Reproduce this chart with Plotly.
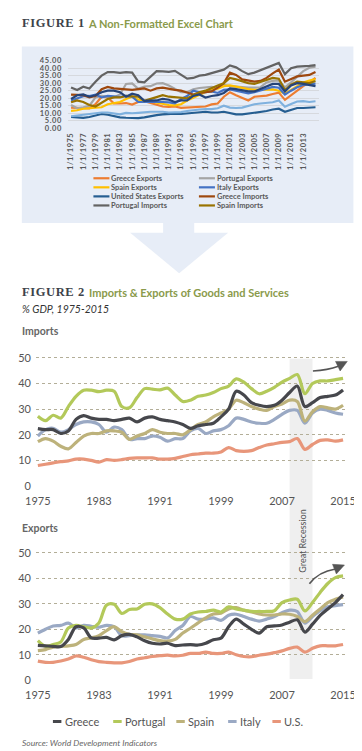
import plotly.graph_objects as go

W, H = 362, 751
def fx(x): return x / W
def fy(y): return 1 - y / H

# ---------------- data ----------------
years = list(range(1975, 2016))

greece_imports = [22.4, 22, 22, 20.5, 21.5, 26, 27.5, 26.5, 26, 26,
                  25.5, 26, 26.5, 25, 26.5, 27, 26, 25.5, 25, 24,
                  22.5, 23.5, 24, 24.5, 27, 30, 37, 35.5, 32.5, 31.5,
                  31, 31.5, 33.5, 36.5, 39, 31, 32.5, 34.5, 35, 35.5, 37.5]
portugal_imports = [27.2, 25.5, 27.6, 26.5, 31, 35, 37.4, 37.4, 36.8, 37.4,
                    37, 31, 30.5, 34.5, 38, 37.8, 37.5, 38.2, 35.5, 33,
                    33.5, 35, 35.5, 36.5, 38, 39, 41.8, 40.5, 38, 36,
                    37, 38.5, 40.5, 42, 43.5, 36, 40, 41, 41, 41.5, 42]
spain_imports = [17.3, 18.5, 17.5, 15.5, 14.5, 17, 19.5, 20.5, 20.5, 21.5,
                 21.5, 21, 18.2, 19.5, 20.5, 22, 21, 20.5, 20.5, 20,
                 22, 24, 25, 27, 28.5, 30, 33.5, 32.5, 31, 30,
                 29.5, 31, 32, 33.5, 33, 25.3, 29, 31, 30.5, 30, 31.5]
italy_imports = [19.5, 22, 22.5, 21, 22, 24, 25, 25, 24, 21,
                 23, 22, 18.2, 18.5, 18.5, 19.5, 19, 17.5, 18.5, 18.5,
                 21.5, 22.5, 20.5, 21.5, 22, 23.5, 26.5, 26, 25, 24.5,
                 24.5, 26, 28, 29.5, 29.5, 24.5, 28.5, 30, 29.5, 28.5, 28]
us_imports = [8, 8.5, 9, 9.5, 9.8, 10.5, 10.5, 10, 9.3, 10.3,
              10, 10.3, 10.8, 11, 11, 11, 10.5, 10.5, 10.8, 11.5,
              12.2, 12.5, 12.8, 12.8, 13.3, 15, 13.8, 13.5, 13.8, 15,
              16, 16.5, 17, 17.3, 18.5, 14.3, 16.2, 17.8, 18, 17.5, 18]

greece_exports = [13.7, 13.5, 13.3, 13.2, 16, 21, 20.5, 16.6, 16.5, 16.8,
                  15.8, 17.5, 18, 17, 15.5, 14.5, 14.2, 14.5, 13.6, 13.8,
                  14, 13.8, 14.5, 15.9, 16.5, 21, 24, 22, 20, 18.5,
                  21, 21.3, 21.7, 22.8, 23.7, 18.9, 22, 25.5, 28, 30.5, 33.6]
portugal_exports = [15.5, 13.3, 14, 15, 20.5, 21.5, 21, 20.5, 22.5, 29.5,
                    29.8, 26.2, 27.8, 28, 29.8, 30, 28.5, 26, 24, 24,
                    26, 26.8, 27, 27.5, 26.8, 28.8, 28, 27.5, 27, 27,
                    27, 27.3, 30.5, 31.5, 31.8, 27.2, 30.5, 34.5, 38, 40.3, 41]
spain_exports = [11.6, 12, 13, 13.3, 13.5, 14, 16, 16.6, 17.5, 19.5,
                 21, 19, 18, 17.8, 17, 16.2, 15.5, 15.3, 16, 18.5,
                 20.4, 22.5, 24.5, 26, 26.3, 28, 28.5, 27.5, 26.8, 26,
                 25.6, 25.6, 26, 25.9, 25, 23, 25.5, 28, 30.5, 31.8, 32.7]
italy_exports = [18.5, 20, 21.3, 21.5, 22.4, 20.5, 21.5, 21.2, 20.8, 21.5,
                 21, 17.5, 17.5, 17.8, 17.8, 17.5, 17.2, 16.6, 19.5, 21.5,
                 25, 24, 24, 24.5, 23.5, 25.5, 25.9, 25, 24, 23.2,
                 24, 25, 26.5, 27.5, 27, 22.4, 25, 27.3, 28.8, 29.3, 29.7]
us_exports = [7.5, 7, 7, 7.5, 8.3, 9.5, 9, 8, 7.3, 7,
              6.8, 6.8, 7.3, 8.3, 8.8, 9.3, 9.6, 9.8, 9.5, 9.8,
              10.5, 10.5, 11, 10.5, 10.5, 11, 10, 9.3, 9.2, 9.8,
              10.2, 10.8, 11.5, 12.5, 13, 11, 12.5, 13.5, 13.5, 13.5, 14]

countries = ["Greece", "Portugal", "Spain", "Italy", "U.S."]
country_colors = ["#46474c", "#b3c95a", "#bdb27b", "#9aa9c4", "#e8967a"]
import_series = [greece_imports, portugal_imports, spain_imports, italy_imports, us_imports]
export_series = [greece_exports, portugal_exports, spain_exports, italy_exports, us_exports]

excel_names = ["Greece Exports", "Portugal Exports", "Spain Exports", "Italy Exports",
               "United States Exports", "Greece Imports", "Portugal Imports", "Spain Imports",
               "Italy Imports", "United States Imports"]
excel_colors = ["#ed7d31", "#a5a5a5", "#ffc000", "#4472c4", "#255e91",
                "#9e480e", "#636363", "#997300", "#264478", "#7fb1de"]
excel_values = [greece_exports, portugal_exports, spain_exports, italy_exports, us_exports,
                greece_imports, portugal_imports, spain_imports, italy_imports, us_imports]
excel_legend_count = 8

excel_ticks = list(range(1975, 2014, 2))
excel_ticktext = ["<span style='letter-spacing:0.5px'>1/1/%d</span>" % y for y in excel_ticks]
excel_yticks = [0, 5, 10, 15, 20, 25, 30, 35, 40, 45]
excel_left_text = ["%.2f" % v for v in excel_yticks]
excel_right_text = [s[:4] for s in excel_left_text]

fig2_xticks = [1975, 1983, 1991, 1999, 2007, 2015]
fig2_yticks = [0, 10, 20, 30, 40, 50]
recession = [2008, 2011]

# ---------------- figure ----------------
fig = go.Figure()

for name, col, vals in zip(excel_names, excel_colors, excel_values):
    fig.add_trace(go.Scatter(x=years, y=vals, mode="lines", name=name,
                             line=dict(color=col, width=2.2),
                             xaxis="x", yaxis="y", showlegend=False, hoverinfo="skip"))

for name, col, vals in reversed(list(zip(countries, country_colors, import_series))):
    fig.add_trace(go.Scatter(x=years, y=vals, mode="lines", name=name,
                             line=dict(color=col, width=3.2, shape="spline", smoothing=0.9),
                             xaxis="x2", yaxis="y3", showlegend=False, hoverinfo="skip"))
for name, col, vals in reversed(list(zip(countries, country_colors, export_series))):
    fig.add_trace(go.Scatter(x=years, y=vals, mode="lines", name=name,
                             line=dict(color=col, width=3.2, shape="spline", smoothing=0.9),
                             xaxis="x3", yaxis="y4", showlegend=False, hoverinfo="skip"))

excel_xfont = dict(family="Lato", size=7.5, color="#595959", weight="bold")
excel_yfont = dict(family="Lato", size=7.5, color="#595959", weight="bold")
tick_font = dict(family="Lato", size=11, color="#555555")

fig.update_layout(
    width=W, height=H, margin=dict(l=0, r=0, t=0, b=0),
    paper_bgcolor="white", plot_bgcolor="rgba(0,0,0,0)",
    showlegend=False,
    xaxis=dict(domain=[fx(52), fx(318)], range=[1974.5, 2015.5], anchor="y",
               tickmode="array", tickvals=excel_ticks, ticktext=excel_ticktext,
               tickangle=-90, tickfont=excel_xfont, showgrid=False, zeroline=False,
               showline=False, ticks="", ticklabelstandoff=2),
    yaxis=dict(domain=[fy(116), fy(47.0)], range=[0, 45.2], anchor="x",
               tickmode="array", tickvals=excel_yticks,
               ticktext=["<span style='letter-spacing:0.6px'>%s</span>" % t for t in excel_left_text],
               tickfont=excel_yfont, ticklabelstandoff=5,
               gridcolor="#d6d9de", gridwidth=1, zeroline=False, showline=False, ticks=""),
    yaxis2=dict(domain=[fy(116), fy(47.0)], range=[0, 45.2], overlaying="y", side="right",
                anchor="x", tickmode="array", tickvals=excel_yticks,
                ticktext=["<span style='letter-spacing:0.6px'>%s</span>" % t for t in excel_right_text],
                tickfont=excel_yfont, ticklabelstandoff=2,
                showgrid=False, zeroline=False, showline=False, ticks=""),
    xaxis2=dict(domain=[fx(18), fx(347)], range=[1974.75, 2015.37], anchor="y3",
                tickmode="array", tickvals=fig2_xticks, tickfont=tick_font,
                showgrid=False, zeroline=False, showline=False, ticks="",
                ticklabelstandoff=6),
    yaxis3=dict(domain=[fy(479.8), fy(347.7)], range=[-0.3, 50.5], anchor="x2",
                tickmode="array", tickvals=fig2_yticks, tickfont=tick_font,
                gridcolor="#b3ae98", griddash="dot", gridwidth=1, zeroline=False,
                showline=False, ticks="", ticklabelstandoff=4),
    xaxis3=dict(domain=[fx(18), fx(347)], range=[1974.75, 2015.37], anchor="y4",
                tickmode="array", tickvals=fig2_xticks, tickfont=tick_font,
                showgrid=False, zeroline=False, showline=False, ticks="",
                ticklabelstandoff=6),
    yaxis4=dict(domain=[fy(676.8), fy(545.7)], range=[-0.3, 50.5], anchor="x3",
                tickmode="array", tickvals=fig2_yticks, tickfont=tick_font,
                gridcolor="#b3ae98", griddash="dot", gridwidth=1, zeroline=False,
                showline=False, ticks="", ticklabelstandoff=4),
)

def P(x, y):
    return "%.5f,%.5f" % (fx(x), fy(y))

box_color = "#e7edf7"
shapes = [
    dict(type="rect", xref="paper", yref="paper", x0=fx(3), x1=fx(355), y0=fy(212), y1=fy(33),
         fillcolor=box_color, line=dict(width=0), layer="below"),
    dict(type="path", xref="paper", yref="paper", layer="below",
         path="M" + P(153, 211) + " L" + P(186, 211) + " L" + P(186, 222) + " L" + P(222, 222) +
              " L" + P(170, 263) + " L" + P(118, 222) + " L" + P(153, 222) + " Z",
         fillcolor=box_color, line=dict(width=0)),
    dict(type="rect", xref="x2", yref="paper", x0=recession[0], x1=recession[1],
         y0=fy(675), y1=fy(350), fillcolor="#efefef", line=dict(width=0), layer="below"),
    # curved arrows
    dict(type="path", xref="paper", yref="paper",
         path="M" + P(312, 362.3) + " Q" + P(328, 361.5) + " " + P(339, 357.5),
         line=dict(color="#555555", width=1.6)),
    dict(type="path", xref="paper", yref="paper",
         path="M" + P(348.5, 352.6) + " L" + P(340.9, 362.3) + " L" + P(336.0, 352.6) + " Z",
         fillcolor="#555555", line=dict(color="#555555", width=0.5)),
    dict(type="path", xref="paper", yref="paper",
         path="M" + P(308.3, 578.3) + " Q" + P(318, 566) + " " + P(336, 563.3),
         line=dict(color="#555555", width=1.6)),
    dict(type="path", xref="paper", yref="paper",
         path="M" + P(345.5, 559.2) + " L" + P(336.9, 568.3) + " L" + P(332.8, 558.5) + " Z",
         fillcolor="#555555", line=dict(color="#555555", width=0.5)),
]

annotations = []
def note(x, y, text, size, color, family="Lato", xanchor="left", angle=0, weight="normal", style="normal"):
    annotations.append(dict(x=fx(x), y=fy(y), xref="paper", yref="paper", text=text,
                            showarrow=False, xanchor=xanchor, yanchor="middle", textangle=angle,
                            font=dict(family=family, size=size, color=color, weight=weight, style=style)))

green = "#8a9a4b"
note(1, 9, "<span style='letter-spacing:0.6px'>FIGURE 1</span>", 12.5, "#3d434a",
     family="Liberation Serif", weight="bold")
note(71, 9.5, "A Non-Formatted Excel Chart", 11, green, weight="bold")
note(1, 282, "<span style='letter-spacing:0.6px'>FIGURE 2</span>", 12.5, "#3d434a",
     family="Liberation Serif", weight="bold")
note(72, 282.5, "Imports &amp; Exports of Goods and Services", 11, green, weight="bold")
note(1, 299, "% GDP, 1975-2015", 10.5, "#333333", style="italic")
note(1, 322, "Imports", 10.5, "#666666", weight="bold")
note(1, 522, "Exports", 10.5, "#666666", weight="bold")
note(301, 535, "Great Recession", 9, "#555555", xanchor="center", angle=-90)
note(1, 740, "Source: World Development Indicators", 8.5, "#666666", style="italic")

# Figure 1 legend (two columns, row-major)
for i in range(excel_legend_count):
    col, row = i % 2, i // 2
    sx = 79 if col == 0 else 191
    yy = 166.7 + row * 9.2
    shapes.append(dict(type="line", xref="paper", yref="paper", x0=fx(sx), x1=fx(sx + 17),
                       y0=fy(yy), y1=fy(yy), line=dict(color=excel_colors[i], width=2.2)))
    note(sx + 17, yy, excel_names[i], 7.5, "#595959", weight="bold")

# Figure 2 legend (one row)
legend_x = [36, 100, 167, 222, 269]
for name, col, lx in zip(countries, country_colors, legend_x):
    shapes.append(dict(type="line", xref="paper", yref="paper", x0=fx(lx), x1=fx(lx + 9),
                       y0=fy(718), y1=fy(718), line=dict(color=col, width=3)))
    note(lx + 10.5, 718, name, 11, "#555555")

fig.update_layout(shapes=shapes, annotations=annotations)
fig.write_html("out.html")
